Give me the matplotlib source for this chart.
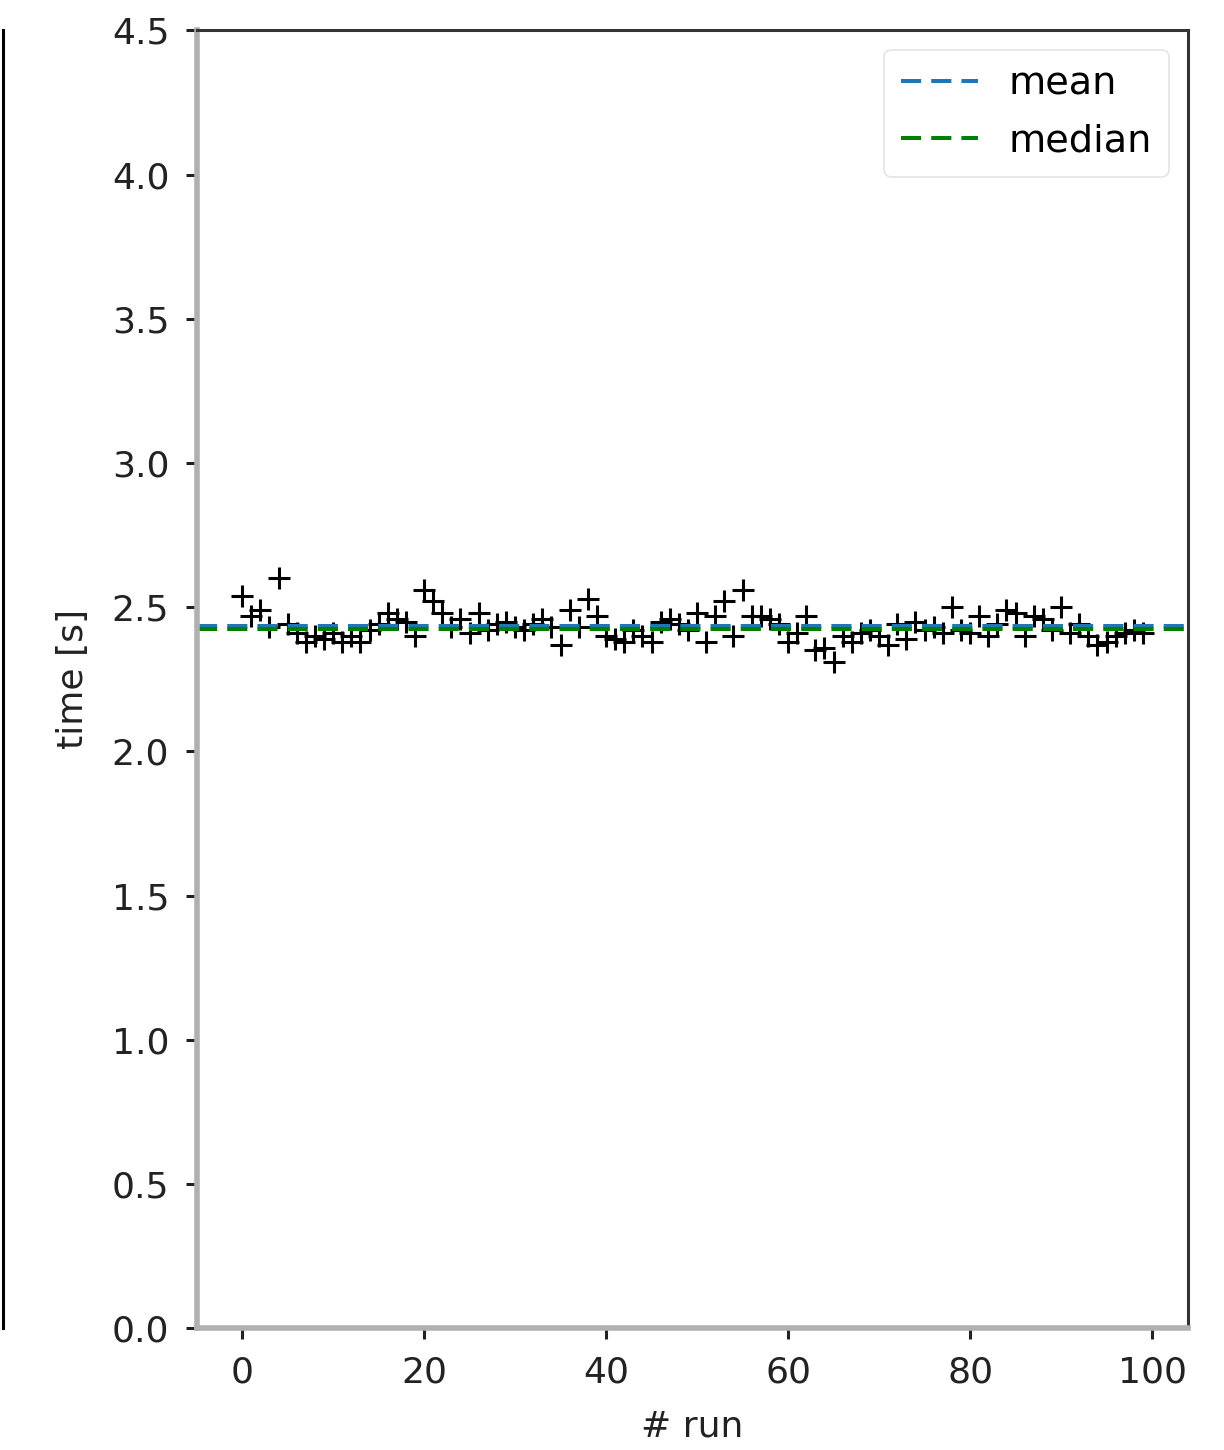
import matplotlib
matplotlib.use("Agg")
import matplotlib.pyplot as plt
import numpy as np

# run times per run [s]
runs = list(range(100))
times = [
    2.54, 2.47, 2.49, 2.43, 2.60, 2.44, 2.41, 2.38, 2.40, 2.39,
    2.41, 2.38, 2.40, 2.38, 2.42, 2.44, 2.48, 2.46, 2.45, 2.40,
    2.56, 2.52, 2.48, 2.43, 2.46, 2.41, 2.48, 2.42, 2.44, 2.45,
    2.43, 2.42, 2.44, 2.46, 2.43, 2.37, 2.49, 2.43, 2.53, 2.47,
    2.40, 2.39, 2.38, 2.42, 2.40, 2.38, 2.45, 2.46, 2.44, 2.42,
    2.48, 2.38, 2.47, 2.52, 2.40, 2.56, 2.47, 2.47, 2.46, 2.44,
    2.38, 2.41, 2.47, 2.35, 2.36, 2.31, 2.40, 2.38, 2.41, 2.42,
    2.40, 2.37, 2.44, 2.39, 2.45, 2.42, 2.43, 2.41, 2.50, 2.42,
    2.41, 2.47, 2.40, 2.44, 2.49, 2.48, 2.40, 2.47, 2.46, 2.42,
    2.50, 2.41, 2.44, 2.40, 2.37, 2.38, 2.40, 2.41, 2.42, 2.41,
]
yticks = [0.0, 0.5, 1.0, 1.5, 2.0, 2.5, 3.0, 3.5, 4.0, 4.5]
xticks = [0, 20, 40, 60, 80, 100]

plt.rcParams['font.family'] = ['DejaVu Sans']
fig = plt.figure(figsize=(12.24, 14.5), dpi=100)

# sliver of the neighbouring panel on the left
left = fig.add_axes([-0.5, 0.0841, 0.5 + 3 / 1224, 0.8949])
left.set_xticks([])
left.set_yticks([])
for name in ['left', 'top', 'bottom']:
    left.spines[name].set_visible(False)
left.spines['right'].set_linewidth(2.2)

ax = fig.add_axes([0.161, 0.0841, 0.8096, 0.8949])

ax.plot(runs, times, '+', color='black', markersize=16, markeredgewidth=2.2)
mean = np.mean(times)
median = np.median(times)
dash = (0, (5, 2.5))
ax.axhline(mean, color='#1f77b4', linestyle=dash, linewidth=2.9, label='mean')
ax.axhline(median, color='green', linestyle=dash, linewidth=2.9, label='median')

ax.set_ylim(0, 4.5)
ax.set_yticks(yticks)
ax.set_yticklabels([f'{t:.1f}' for t in yticks])
ax.set_xticks(xticks)
ax.set_xlabel('# run', fontsize=26, color='#222222', labelpad=14)
ax.set_ylabel('time [s]', fontsize=26, color='#222222', labelpad=16)
ax.tick_params(labelsize=26, length=8, width=2.2, colors='#222222', pad=12)

for name in ['left', 'bottom']:
    ax.spines[name].set_color('#b0b0b0')
    ax.spines[name].set_linewidth(4)
for name in ['top', 'right']:
    ax.spines[name].set_color('#333333')
    ax.spines[name].set_linewidth(2.2)

leg = ax.legend(loc='upper right', fontsize=27.5, handlelength=2.0, borderpad=0.45,
                labelspacing=0.55, handletextpad=0.8)
leg.get_frame().set_linewidth(1.2)
leg.get_frame().set_edgecolor('#dddddd')

fig.savefig('out.png', dpi=100)
